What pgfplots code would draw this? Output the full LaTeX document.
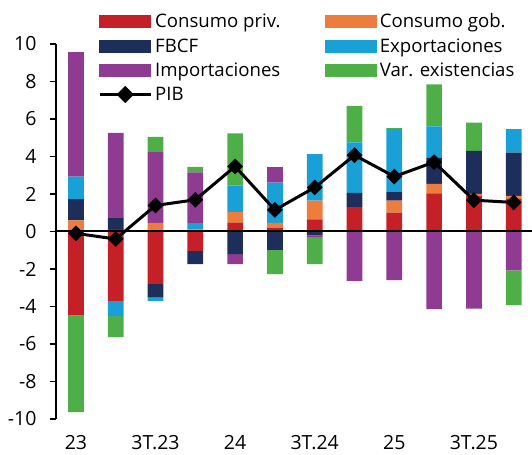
\documentclass[border=0pt]{standalone}
\usepackage{pgfplots}
\pgfplotsset{compat=1.18}
\usepackage{pgfplotstable}
\usepackage{fontspec}
\setmainfont{Open Sans}

\definecolor{cpC}{RGB}{197,32,39}
\definecolor{cgC}{RGB}{237,125,60}
\definecolor{fbC}{RGB}{30,46,90}
\definecolor{exC}{RGB}{25,160,215}
\definecolor{imC}{RGB}{143,59,145}
\definecolor{vaC}{RGB}{78,175,72}

\pgfplotstableread{
x cp cg fbcf exp imp var pib
0 -4.48 0.59 1.14 1.19 6.65 -5.15 -0.10
1 -3.70 0.09 0.62 -0.81 4.55 -1.12 -0.40
2 -2.79 0.46 -0.71 -0.20 3.81 0.78 1.39
3 -1.03 0.10 -0.71 0.35 2.70 0.30 1.69
4 0.46 0.59 -1.21 1.40 -0.53 2.78 3.47
5 0.18 0.28 -0.98 2.14 0.83 -1.29 1.15
6 0.64 1.00 -0.21 2.49 -0.09 -1.44 2.35
7 1.30 0.00 0.76 2.69 -2.63 1.95 4.07
8 1.01 0.63 0.46 3.36 -2.59 0.05 2.93
9 2.03 0.51 1.39 1.67 -4.14 2.24 3.70
10 1.90 0.10 2.30 0.00 -4.11 1.50 1.67
11 1.74 0.16 2.31 1.25 -2.08 -1.85 1.55
}\datatable

\pgfplotsset{
  base/.style={scale only axis, width=477.6bp, height=375bp,
    at={(56bp,36bp)}, anchor=south west,
    xmin=-0.5, xmax=11.5, ymin=-10, ymax=10},
  barax/.style={base, hide axis, ybar stacked, bar width=15.7bp},
}

\begin{document}
\begin{tikzpicture}
\useasboundingbox (0,0) rectangle (532bp,455bp);
% negative parts
\begin{axis}[barax]
\addplot[fill=cpC, draw=none] table[x=x, y expr={min(\thisrow{cp},0)}] {\datatable};
\addplot[fill=cgC, draw=none] table[x=x, y expr={min(\thisrow{cg},0)}] {\datatable};
\addplot[fill=fbC, draw=none] table[x=x, y expr={min(\thisrow{fbcf},0)}] {\datatable};
\addplot[fill=exC, draw=none] table[x=x, y expr={min(\thisrow{exp},0)}] {\datatable};
\addplot[fill=imC, draw=none] table[x=x, y expr={min(\thisrow{imp},0)}] {\datatable};
\addplot[fill=vaC, draw=none] table[x=x, y expr={min(\thisrow{var},0)}] {\datatable};
\end{axis}
% positive parts
\begin{axis}[barax]
\addplot[fill=cpC, draw=none] table[x=x, y expr={max(\thisrow{cp},0)}] {\datatable};
\addplot[fill=cgC, draw=none] table[x=x, y expr={max(\thisrow{cg},0)}] {\datatable};
\addplot[fill=fbC, draw=none] table[x=x, y expr={max(\thisrow{fbcf},0)}] {\datatable};
\addplot[fill=exC, draw=none] table[x=x, y expr={max(\thisrow{exp},0)}] {\datatable};
\addplot[fill=imC, draw=none] table[x=x, y expr={max(\thisrow{imp},0)}] {\datatable};
\addplot[fill=vaC, draw=none] table[x=x, y expr={max(\thisrow{var},0)}] {\datatable};
\end{axis}
% frame, PIB, legend
\begin{axis}[base,
  axis y line*=left, axis x line*=bottom,
  x axis line style={draw=none},
  axis line style={line width=1.5bp, black},
  xtick={0,2,4,6,8,10},
  xticklabels={23,3T.23,24,3T.24,25,3T.25},
  ytick={-10,-8,...,10},
  tick align=outside, major tick length=6bp,
  ytick style={line width=1.5bp, black},
  xtick style={draw=none},
  /pgf/number format/assume math mode=true,
  tick label style={font=\fontsize{19.5bp}{22bp}\selectfont},
  yticklabel style={xshift=-10bp},
  xticklabel style={yshift=-7bp},
  legend columns=2,
  legend cell align=left,
  legend style={at={(0.0879,1.0867)}, anchor=north west, draw=none, fill=none,
    inner sep=0pt, font=\fontsize{18.6bp}{22bp}\selectfont,
    /tikz/every odd column/.append style={column sep=1bp},
    /tikz/every even column/.append style={column sep=43bp},
    row sep=5.2bp},
]
\addlegendimage{legend image code/.code={\fill[cpC] (0bp,-6bp) rectangle (51bp,6bp);}}
\addlegendentry{Consumo priv.}
\addlegendimage{legend image code/.code={\fill[cgC] (0bp,-6bp) rectangle (51bp,6bp);}}
\addlegendentry{Consumo gob.}
\addlegendimage{legend image code/.code={\fill[fbC] (0bp,-6bp) rectangle (51bp,6bp);}}
\addlegendentry{FBCF}
\addlegendimage{legend image code/.code={\fill[exC] (0bp,-6bp) rectangle (51bp,6bp);}}
\addlegendentry{Exportaciones}
\addlegendimage{legend image code/.code={\fill[imC] (0bp,-6bp) rectangle (51bp,6bp);}}
\addlegendentry{Importaciones}
\addlegendimage{legend image code/.code={\fill[vaC] (0bp,-6bp) rectangle (51bp,6bp);}}
\addlegendentry{Var. existencias}
\addplot[black, line width=2bp, forget plot] coordinates {(-0.5,0) (11.5,0)};
\addplot[black, line width=3bp, mark=square*, mark size=5.3bp,
  mark options={rotate=45, line width=0.5bp, solid},
  legend image code/.code={\draw[black, line width=3bp] (0bp,0bp) -- (51bp,0bp);
    \fill[black] (25.5bp,6.5bp) -- (32bp,0bp) -- (25.5bp,-6.5bp) -- (19bp,0bp) -- cycle;}]
  table[x=x, y=pib] {\datatable};
\addlegendentry{PIB}
\end{axis}
\end{tikzpicture}
\end{document}
